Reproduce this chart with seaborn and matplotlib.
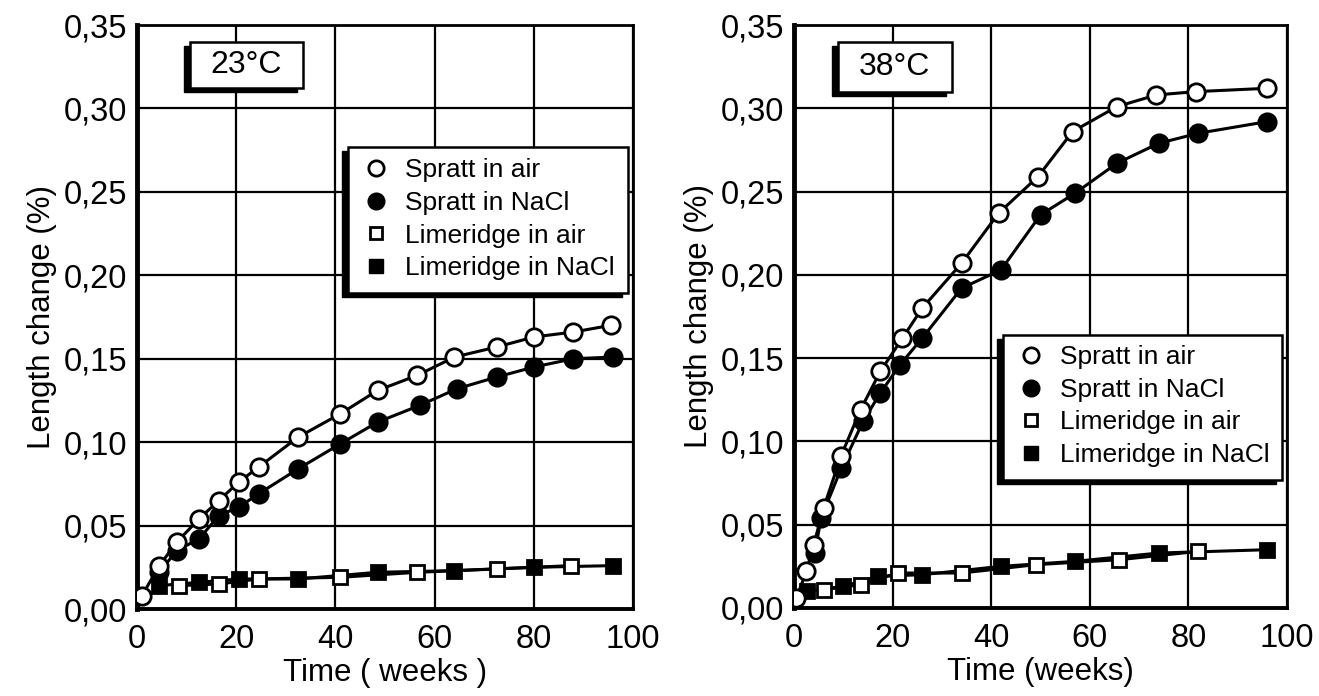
import matplotlib
matplotlib.use("Agg")
import matplotlib.pyplot as plt
import seaborn as sns
from matplotlib.lines import Line2D
from matplotlib.patches import Rectangle
from matplotlib.transforms import offset_copy

# =====================================================
# DATA
# =====================================================

# 23 C panel
spratt_air_23_x = [1, 4.5, 8, 12.5, 16.5, 20.5, 24.5, 32.5, 41, 48.5, 56.5, 64, 72.5, 80, 88, 95.5]
spratt_air_23_y = [0.008, 0.026, 0.040, 0.054, 0.065, 0.076, 0.085, 0.103, 0.117, 0.131,
                   0.140, 0.151, 0.157, 0.163, 0.166, 0.170]

spratt_nacl_23_x = [4.5, 8, 12.5, 16.5, 20.5, 24.5, 32.5, 41, 48.5, 57, 64.5, 72.5, 80, 88, 96]
spratt_nacl_23_y = [0.022, 0.035, 0.042, 0.056, 0.061, 0.069, 0.084, 0.099, 0.112,
                    0.122, 0.132, 0.139, 0.145, 0.150, 0.151]

lime_air_23_x = [8.5, 16.5, 24.5, 41, 56.5, 72.5, 87.5]
lime_air_23_y = [0.014, 0.015, 0.018, 0.019, 0.022, 0.024, 0.026]

lime_nacl_23_x = [4.5, 12.5, 20.5, 32.5, 48.5, 64, 80, 96]
lime_nacl_23_y = [0.014, 0.016, 0.018, 0.018, 0.022, 0.023, 0.025, 0.026]

# 38 C panel
spratt_air_38_x = [0.5, 2.5, 4, 6, 9.5, 13.5, 17.5, 22, 26, 34, 41.5, 49.5, 56.5, 65.5, 73.5, 81.5, 96]
spratt_air_38_y = [0.006, 0.022, 0.038, 0.060, 0.091, 0.119, 0.142, 0.162, 0.180, 0.207,
                   0.237, 0.259, 0.286, 0.301, 0.308, 0.310, 0.312]

spratt_nacl_38_x = [4.2, 5.5, 9.6, 14, 17.5, 21.5, 26, 34, 42, 50, 57, 65.5, 74, 82, 96]
spratt_nacl_38_y = [0.033, 0.054, 0.084, 0.112, 0.129, 0.146, 0.162, 0.192, 0.203,
                    0.236, 0.249, 0.267, 0.279, 0.285, 0.292]

lime_air_38_x = [6, 13.5, 21, 34, 49, 66, 82]
lime_air_38_y = [0.011, 0.014, 0.021, 0.021, 0.026, 0.029, 0.034]

lime_nacl_38_x = [2.7, 10, 17, 26, 42, 57, 74, 96]
lime_nacl_38_y = [0.010, 0.013, 0.019, 0.020, 0.025, 0.028, 0.033, 0.035]

labels = ["Spratt in air", "Spratt in NaCl", "Limeridge in air", "Limeridge in NaCl"]
y_ticks = [0.00, 0.05, 0.10, 0.15, 0.20, 0.25, 0.30, 0.35]
y_tick_labels = ["0,00", "0,05", "0,10", "0,15", "0,20", "0,25", "0,30", "0,35"]
x_ticks = [0, 20, 40, 60, 80, 100]
x_tick_labels = ["0", "20", "40", "60", "80", "100"]

# =====================================================
# STYLE
# =====================================================

sns.set_style("white")
plt.rcParams["font.family"] = ["Liberation Sans", "DejaVu Sans"]
plt.rcParams["text.color"] = "black"
plt.rcParams["axes.labelcolor"] = "black"

fig = plt.figure(figsize=(13.19, 6.96), dpi=100)

ax1 = fig.add_axes([137 / 1319, 87 / 696, 496 / 1319, 584 / 696])
ax2 = fig.add_axes([794 / 1319, 88 / 696, 493 / 1319, 583 / 696])

styles = [
    dict(marker="o", markersize=12.5, markerfacecolor="white"),
    dict(marker="o", markersize=12.5, markerfacecolor="black"),
    dict(marker="s", markersize=10, markerfacecolor="white"),
    dict(marker="s", markersize=10, markerfacecolor="black"),
]

# drawing order: squares first, filled circles, open circles on top
draw_order = [3, 2, 1, 0]


def draw_panel(ax, series, temp, temp_box, leg_box, leg_anchor, xlabel):
    for i in draw_order:
        x, y = series[i]
        sns.lineplot(
            x=x, y=y, ax=ax, color="black", linewidth=2.2,
            markeredgecolor="black", markeredgewidth=2.0,
            zorder=3, **styles[i]
        )

    ax.set_xlim(0, 100)
    ax.set_ylim(0, 0.35)
    ax.set_xticks(x_ticks)
    ax.set_xticklabels(x_tick_labels)
    ax.set_yticks(y_ticks)
    ax.set_yticklabels(y_tick_labels)
    ax.tick_params(axis="both", length=0, labelsize=23.5, colors="black")
    ax.tick_params(axis="y", pad=7)
    ax.tick_params(axis="x", pad=11)

    ax.grid(True, color="black", linewidth=1.6)
    ax.set_axisbelow(True)

    for side, lw in [("left", 3.5), ("bottom", 2.8), ("top", 2.0), ("right", 2.0)]:
        ax.spines[side].set_visible(True)
        ax.spines[side].set_color("black")
        ax.spines[side].set_linewidth(lw)

    ax.set_ylabel("Length change (%)", fontsize=22.5, labelpad=5, color="black")
    ax.set_xlabel(xlabel, fontsize=22.5, labelpad=2, color="black")

    # temperature label box with shadow (lower-left)
    x0, y0, x1, y1 = temp_box
    shadow_tr = offset_copy(ax.transAxes, fig=fig, x=-6, y=-4, units="dots")
    ax.add_patch(Rectangle((x0, y0), x1 - x0, y1 - y0, transform=shadow_tr,
                           facecolor="black", edgecolor="black", zorder=5, clip_on=False))
    ax.add_patch(Rectangle((x0, y0), x1 - x0, y1 - y0, transform=ax.transAxes,
                           facecolor="white", edgecolor="black", linewidth=1.8,
                           zorder=6, clip_on=False))
    ax.text((x0 + x1) / 2, (y0 + y1) / 2, temp, transform=ax.transAxes,
            ha="center", va="center", fontsize=23, color="black", zorder=7)

    # legend box with shadow
    x0, y0, x1, y1 = leg_box
    ax.add_patch(Rectangle((x0, y0), x1 - x0, y1 - y0, transform=shadow_tr,
                           facecolor="black", edgecolor="black", zorder=5, clip_on=False))
    ax.add_patch(Rectangle((x0, y0), x1 - x0, y1 - y0, transform=ax.transAxes,
                           facecolor="white", edgecolor="black", linewidth=1.8,
                           zorder=6, clip_on=False))

    handles = [
        Line2D([], [], linestyle="none", marker="o", markersize=11,
               markerfacecolor="white", markeredgecolor="black", markeredgewidth=2),
        Line2D([], [], linestyle="none", marker="o", markersize=12,
               markerfacecolor="black", markeredgecolor="black"),
        Line2D([], [], linestyle="none", marker="s", markersize=8.5,
               markerfacecolor="white", markeredgecolor="black", markeredgewidth=2),
        Line2D([], [], linestyle="none", marker="s", markersize=9.5,
               markerfacecolor="black", markeredgecolor="black"),
    ]
    leg = ax.legend(handles, labels, loc="upper left", bbox_to_anchor=leg_anchor,
                    frameon=False, fontsize=19, handlelength=1.0, handletextpad=0.6,
                    labelspacing=0.33, borderpad=0, borderaxespad=0,
                    labelcolor="black")
    leg.set_zorder(8)


draw_panel(
    ax1,
    [(spratt_air_23_x, spratt_air_23_y), (spratt_nacl_23_x, spratt_nacl_23_y),
     (lime_air_23_x, lime_air_23_y), (lime_nacl_23_x, lime_nacl_23_y)],
    "23°C",
    (0.107, 0.892, 0.335, 0.971),
    (0.425, 0.541, 0.99, 0.791),
    (0.455, 0.772),
    "Time ( weeks )",
)

draw_panel(
    ax2,
    [(spratt_air_38_x, spratt_air_38_y), (spratt_nacl_38_x, spratt_nacl_38_y),
     (lime_air_38_x, lime_air_38_y), (lime_nacl_38_x, lime_nacl_38_y)],
    "38°C",
    (0.089, 0.885, 0.320, 0.971),
    (0.424, 0.220, 0.99, 0.468),
    (0.454, 0.451),
    "Time (weeks)",
)

fig.savefig("out.png", dpi=100, facecolor="white")
